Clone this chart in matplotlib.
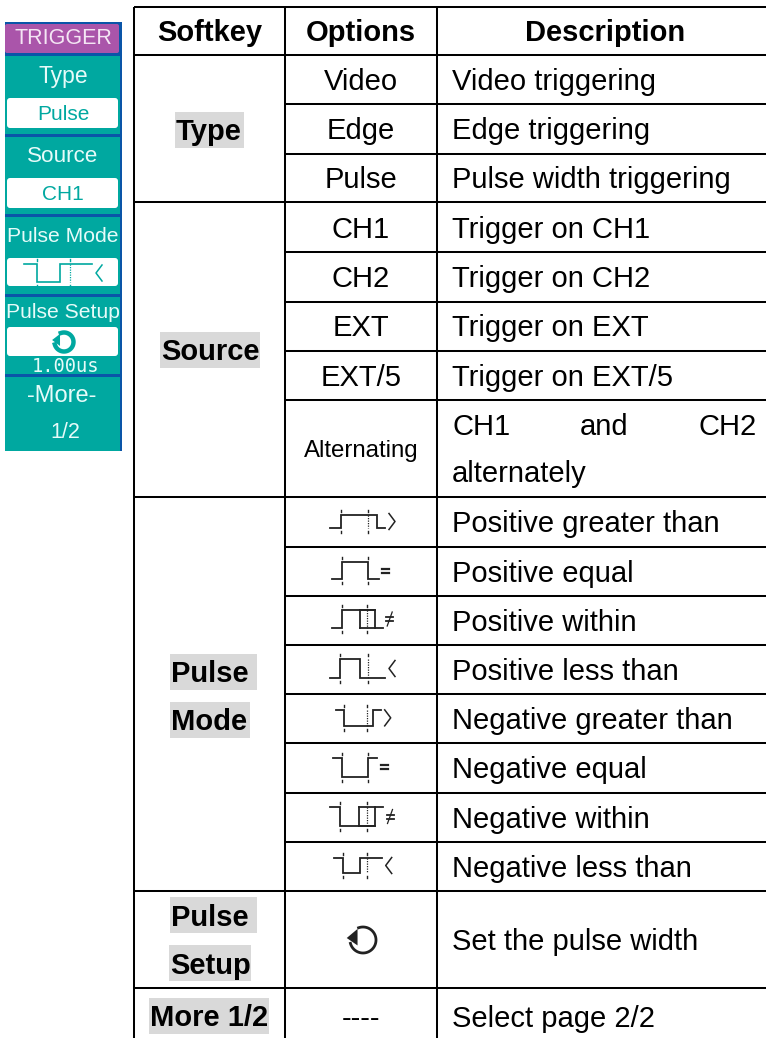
import numpy as np
import matplotlib
matplotlib.use("Agg")
import matplotlib.pyplot as plt
from matplotlib.patches import Rectangle, FancyBboxPatch, Polygon

plt.rcParams['font.family'] = ['Liberation Sans', 'DejaVu Sans']

# table content
headers = ["Softkey", "Options", "Description"]
softkeys = [["Type"], ["Source"], ["Pulse", "Mode"], ["Pulse", "Setup"], ["More 1/2"]]
options = ["Video", "Edge", "Pulse", "CH1", "CH2", "EXT", "EXT/5"]
descriptions = ["Video triggering", "Edge triggering", "Pulse width triggering",
                "Trigger on CH1", "Trigger on CH2", "Trigger on EXT", "Trigger on EXT/5"]
pulse_descriptions = ["Positive greater than", "Positive equal", "Positive within", "Positive less than",
                      "Negative greater than", "Negative equal", "Negative within", "Negative less than"]
pulse_symbols = [">", "=", "!", "<", ">", "=", "!", "<"]

# softkey panel content
menu_title = "TRIGGER"
menu_labels = ["Type", "Source", "Pulse Mode", "Pulse Setup"]
menu_values = ["Pulse", "CH1"]
menu_width_value = "1.00us"
menu_more = ["-More-", "1/2"]

# layout, in pixels of the 766x1038 picture
W, H = 766, 1038
col_x = [134, 285, 437]
row_y = [7, 55, 104, 153.5, 202, 252, 301.5, 350.5, 399.7, 496.7,
         547, 596, 645, 693.5, 743, 793, 842, 891, 988, 1050]
opt_center = 361
desc_left = 452
FS = 21
LW = 1.45
GRAY = "#d9d9d9"
TEAL = "#00a8a0"
BLUE = "#0a55a8"
PURPLE = "#aa55aa"
MENU_TEXT = "#e6fbf9"

# start, edge 1, edge 2, end, top, base, inner edge, dotted marker
icon_geom = [
    (330, 340.5, 376.5, 385, 515, 528, None, 368),
    (332, 342, 368, 378.5, 562, 579, None, None),
    (332, 342, 375, 382.7, 610, 628, 360, 367),
    (330, 340, 360, 385, 659, 678, None, 368),
    (336, 344, 373, 380.7, 710, 725.7, None, 367),
    (333, 342, 367.7, 377, 758, 776.7, None, None),
    (330, 340, 375, 383, 807, 826, 359, 367),
    (334, 343, 360, 381.7, 858, 873, None, 367),
]


def draw_symbol(ax, sym, x, y, color, lw=1.0):
    if sym == ">":
        ax.plot([x - 3, x + 3, x - 3], [y - 8, y, y + 8], color=color, lw=lw)
    elif sym == "<":
        ax.plot([x + 3, x - 3, x + 3], [y - 8, y, y + 8], color=color, lw=lw)
    elif sym == "=":
        ax.plot([x - 3.5, x + 3.5], [y - 2, y - 2], color=color, lw=1.6)
        ax.plot([x - 3.5, x + 3.5], [y + 2, y + 2], color=color, lw=1.6)
    else:
        ax.plot([x - 3.5, x + 3.5], [y - 2, y - 2], color=color, lw=1.3)
        ax.plot([x - 3.5, x + 3.5], [y + 2, y + 2], color=color, lw=1.3)
        ax.plot([x - 2.5, x + 2.5], [y + 7, y - 7], color=color, lw=0.9)


def draw_pulse(ax, geom, positive, sym, color="#222222", lw=1.3, sym_x=None):
    x0, x1, x2, x3, top, base, inner, dot = geom
    if positive:
        ys = [base, base, top, top, base, base]
    else:
        ys = [top, top, base, base, top, top]
    ax.plot([x0, x1, x1, x2, x2, x3], ys, color=color, lw=lw, solid_joinstyle="miter")
    if inner is not None:
        ax.plot([inner, inner], [top, base], color=color, lw=lw)
        ax.plot([inner, x2], [top if positive else base] * 2, color=color, lw=lw)
        ax.plot([inner, x2], [base if positive else top] * 2, color=color, lw=lw)
    # little timing markers above and below the edges
    marks = [x1, dot if dot is not None else x2]
    for m in marks:
        ax.plot([m, m], [top - 5, top - 3], color=color, lw=1.0)
        ax.plot([m, m], [base + 3, base + 5], color=color, lw=1.0)
    if dot is not None:
        ax.plot([dot, dot], [top, base], color=color, lw=0.9, ls=(0, (1, 1)))
    if sym_x is None:
        sym_x = x3 + 7
    draw_symbol(ax, sym, sym_x, (top + base) / 2, color, min(lw, 1.1))


def draw_rotate(ax, cx, cy, r, color, lw):
    t = np.radians(np.linspace(-110, 165, 60))
    ax.plot(cx + r * np.cos(t), cy + r * np.sin(t), color=color, lw=lw)
    tip = r * 1.25
    ax.add_patch(Polygon([(cx - tip, cy - 2), (cx - r * 0.42, cy - r * 0.85), (cx - r * 0.42, cy + r * 0.42)],
                         closed=True, facecolor=color, edgecolor="none"))


def draw_panel(ax):
    ax.add_patch(Rectangle((5, 22), 117, 429, facecolor=BLUE, edgecolor="none"))
    ax.add_patch(FancyBboxPatch((5, 24), 114, 29, boxstyle="round,pad=0,rounding_size=2",
                                facecolor=PURPLE, edgecolor="none"))
    for y0, y1 in [(56, 134), (137, 214), (217, 294), (297, 374), (377, 451)]:
        ax.add_patch(Rectangle((5, y0), 115, y1 - y0, facecolor=TEAL, edgecolor="none"))
    for y0, y1 in [(98, 128), (178, 208), (258, 286), (327, 356)]:
        ax.add_patch(FancyBboxPatch((7, y0), 111, y1 - y0, boxstyle="round,pad=0,rounding_size=3",
                                    facecolor="white", edgecolor="none"))
    ax.text(63, 38.5, menu_title, color="#f4e6f4", fontsize=15.5, ha="center", va="center")
    sizes = [16.5, 16.2, 15.2, 15.2]
    for label, y, size in zip(menu_labels, [76, 157, 237, 313], sizes):
        ax.text(63, y, label, color=MENU_TEXT, fontsize=size, ha="center", va="center")
    for value, y in zip(menu_values, [114, 195]):
        ax.text(63, y, value, color=TEAL, fontsize=15, ha="center", va="center")
    # pulse mode glyph in the white box
    draw_pulse(ax, (24, 37, 60, 92, 264, 282, None, 70), False, "<", color=TEAL, lw=1.2, sym_x=99)
    draw_rotate(ax, 64, 342, 9.5, TEAL, 3.2)
    ax.text(65, 366, menu_width_value, color=MENU_TEXT, fontsize=13.5, family="DejaVu Sans Mono",
            ha="center", va="center")
    ax.text(62, 396, menu_more[0], color=MENU_TEXT, fontsize=17, ha="center", va="center")
    ax.text(65, 432, menu_more[1], color=MENU_TEXT, fontsize=15.5, ha="center", va="center")


def draw_table(ax):
    # highlighted softkey names: x0, x1, y0, y1
    boxes = [(175, 244, 112, 148), (160, 260, 332, 368), (170, 257, 654, 690),
             (170, 250, 702, 738), (170, 257, 897, 933), (169, 251, 945, 981), (149, 269, 998, 1034)]
    names = [n for group in softkeys for n in group]
    for (x0, x1, y0, y1), name in zip(boxes, names):
        ax.add_patch(Rectangle((x0, y0), x1 - x0, y1 - y0, facecolor=GRAY, edgecolor="none"))
        ax.text(x0 + 1, (y0 + y1) / 2 + 10.5, name, fontsize=FS, fontweight="bold",
                ha="left", va="baseline", color="black")

    # grid lines
    for x in col_x:
        ax.plot([x, x], [row_y[0], H + 5], color="black", lw=LW, solid_capstyle="butt")
    for i, y in enumerate(row_y[:-1]):
        x_left = col_x[0] if i in (0, 1, 4, 9, 17, 18) else col_x[1]
        ax.plot([x_left, W + 5], [y, y], color="black", lw=LW, solid_capstyle="butt")

    # header
    header_x = [209.5, 361, 605]
    for x, text in zip(header_x, headers):
        ax.text(x, 41, text, fontsize=FS, fontweight="bold", ha="center", va="baseline")

    # plain rows
    for i, (opt, desc) in enumerate(zip(options, descriptions)):
        base = (row_y[i + 1] + row_y[i + 2]) / 2 + 10.5
        ax.text(opt_center, base, opt, fontsize=FS, ha="center", va="baseline")
        ax.text(desc_left, base, desc, fontsize=FS, ha="left", va="baseline")

    # alternating row, justified in the source
    ax.text(opt_center, 457, "Alternating", fontsize=17.3, ha="center", va="baseline")
    ax.text(desc_left, 435, "CH1", fontsize=FS, ha="left", va="baseline")
    ax.text(580, 435, "and", fontsize=FS, ha="left", va="baseline")
    ax.text(757, 435, "CH2", fontsize=FS, ha="right", va="baseline")
    ax.text(desc_left, 482, "alternately", fontsize=FS, ha="left", va="baseline")

    # pulse mode rows
    for i, desc in enumerate(pulse_descriptions):
        base = (row_y[i + 9] + row_y[i + 10]) / 2 + 10.5
        ax.text(desc_left, base, desc, fontsize=FS, ha="left", va="baseline")
        draw_pulse(ax, icon_geom[i], i < 4, pulse_symbols[i])

    # last two rows
    draw_rotate(ax, 363, 940, 13, "#222222", 2.0)
    ax.text(desc_left, 950, "Set the pulse width", fontsize=FS, ha="left", va="baseline")
    ax.text(opt_center, 1027, "----", fontsize=FS, ha="center", va="baseline")
    ax.text(desc_left, 1027, "Select page 2/2", fontsize=FS, ha="left", va="baseline")


def main():
    fig = plt.figure(figsize=(W / 100, H / 100), dpi=100)
    ax = fig.add_axes([0, 0, 1, 1])
    ax.set_xlim(0, W)
    ax.set_ylim(H, 0)
    ax.axis("off")
    draw_panel(ax)
    draw_table(ax)
    fig.savefig("out.png", dpi=100, facecolor="white")


if __name__ == "__main__":
    main()
